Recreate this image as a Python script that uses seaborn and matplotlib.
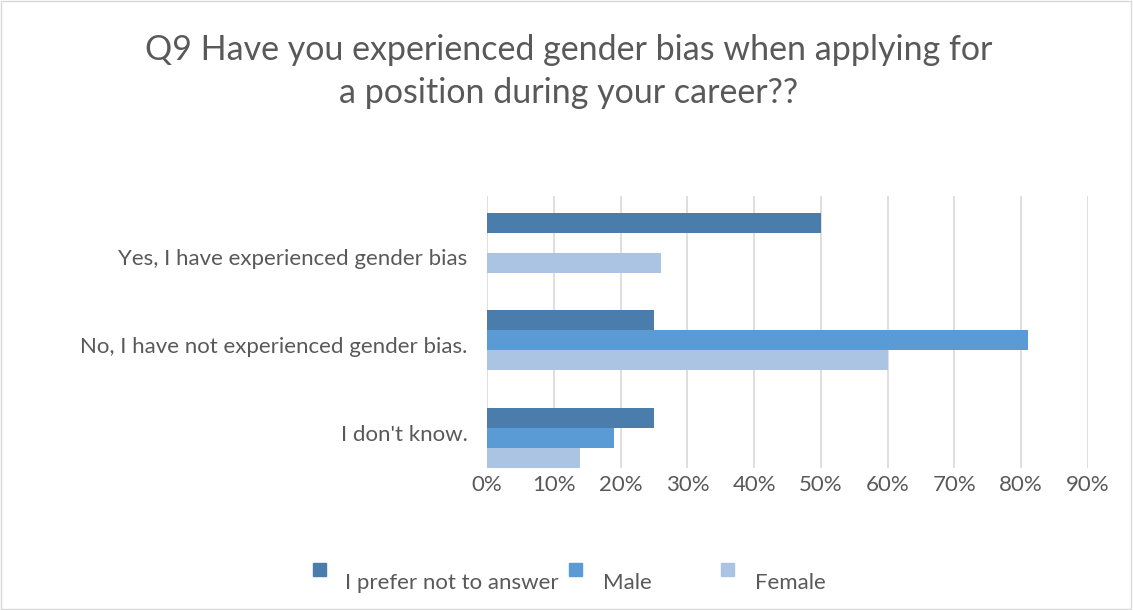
import pandas as pd
import numpy as np
import seaborn as sns
import matplotlib.pyplot as plt

answers = ['Yes, I have experienced gender bias',
           'No, I have not experienced gender bias.',
           "I don't know."]
groups = ['I prefer not to answer', 'Male', 'Female']
prefer_not = [0.50, 0.25, 0.25]
male = [0.00, 0.81, 0.19]
female = [0.26, 0.60, 0.14]
colors = ['#4A7DAB', '#5B9BD5', '#ABC4E4']

df = pd.DataFrame({
    'answer': answers * 3,
    'group': np.repeat(groups, 3),
    'share': prefer_not + male + female,
})

sns.set_style('white')
plt.rcParams['font.family'] = ['Lato', 'DejaVu Sans']
grey = '#595959'
W, H = 1133, 610

fig = plt.figure(figsize=(W / 100, H / 100), dpi=100)
ax = fig.add_axes([487 / W, 1 - 468 / H, (1088 - 487) / W, (468 - 196) / H])

sns.barplot(data=df, y='answer', x='share', hue='group', order=answers,
            hue_order=groups, palette=colors, width=0.615, orient='h',
            saturation=1, linewidth=0, ax=ax, legend=False)

ax.set_xlim(0, 0.9)
ax.set_ylim(2.31, -0.48)
ticks = np.arange(0, 0.91, 0.1)
ax.set_xticks(ticks)
ax.set_xticklabels([f'{int(round(t * 100))}%' for t in ticks])
# category labels sit a little off the bar groups, as in the original
ax.set_yticks([1.05 + (i - 1) * 0.9 for i in range(len(answers))])
ax.set_yticklabels(answers)
ax.xaxis.grid(True, color='#D9D9D9', linewidth=1.2)
ax.set_axisbelow(True)
for s in ax.spines.values():
    s.set_visible(False)
ax.tick_params(axis='both', length=0, labelsize=16, labelcolor=grey)
ax.tick_params(axis='x', pad=5)
ax.tick_params(axis='y', pad=14)
ax.set_xlabel('')
ax.set_ylabel('')

fig.suptitle('Q9 Have you experienced gender bias when applying for\na position during your career??',
             x=0.502, y=1 - 34 / H, va='top', fontsize=24.5, color=grey, linespacing=1.42)

# legend: Excel puts the swatches up and to the left of the text
swatch_x = [313, 569, 721]
text_x = [345, 603, 755]
for g, c, sx, tx in zip(groups, colors, swatch_x, text_x):
    fig.patches.append(plt.Rectangle((sx / W, 1 - 576 / H), 13 / W, 13 / H,
                                     transform=fig.transFigure, color=c))
    fig.text(tx / W, 1 - 583 / H, g, va='center', ha='left', fontsize=16, color=grey)

fig.patches.append(plt.Rectangle((0.001, 0.001), 0.997, 0.997, transform=fig.transFigure,
                                 fill=False, edgecolor='#D9D9D9', linewidth=1))

fig.savefig('out.png', dpi=100)
